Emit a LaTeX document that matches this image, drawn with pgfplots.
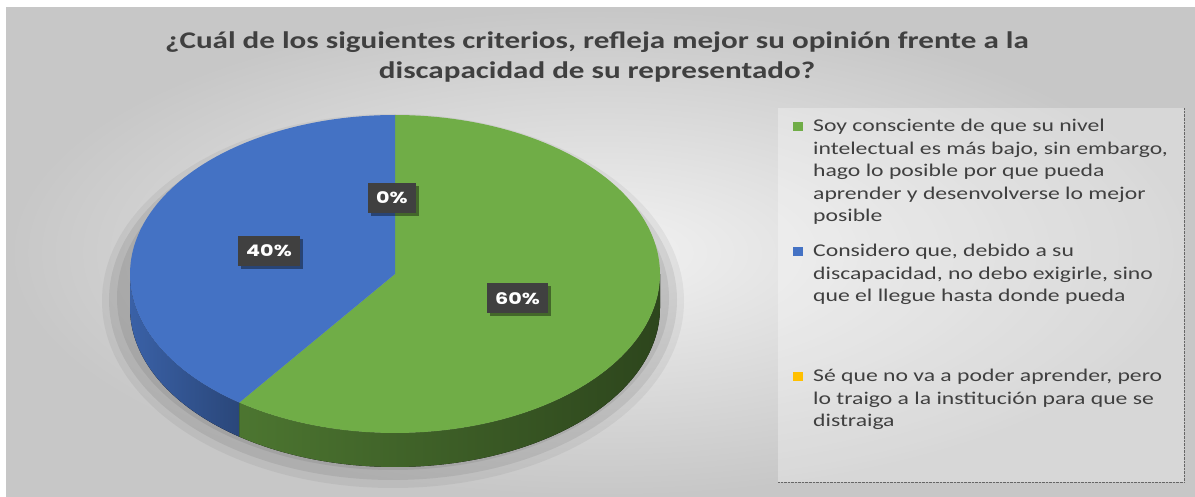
\documentclass[border=0pt]{standalone}
\usepackage{pgfplots}
\pgfplotsset{compat=1.18}
\usepgfplotslibrary{fillbetween}
\usetikzlibrary{shadows}
\usepackage{fontspec}
\setmainfont{Carlito}
\newfontfamily\titlefont[FakeStretch=1.3]{Carlito}
\newfontfamily\legfont[FakeStretch=1.32]{Carlito}
\newfontfamily\labfont[FakeStretch=1.3]{Poppins}
\definecolor{cgreen}{HTML}{70AD47}
\definecolor{cblue}{HTML}{4472C4}
\definecolor{cyellow}{HTML}{FFC000}
\definecolor{txt}{HTML}{404040}
\definecolor{lab}{HTML}{404040}
% data (percentages)
\def\vA{60}\def\vB{40}\def\vC{0}
\pgfmathsetmacro\aS{90}
\pgfmathsetmacro\aA{90-3.6*\vA}   % end of green
\pgfmathsetmacro\aB{\aA-3.6*\vB}  % end of blue
\def\cx{395}\def\cy{223}\def\rx{265}\def\ry{159}\def\dep{34}
\begin{document}
\begin{tikzpicture}
\begin{axis}[width=1195bp, height=497bp, scale only axis, set layers,
  xmin=0, xmax=1195, ymin=0, ymax=497, axis lines=none, clip=false]
\begin{pgfonlayer}{axis background}
% background
\fill[white] (axis cs:0,0) rectangle (axis cs:1195,497);
\shade[inner color=white!95!black, outer color=white!78!black] (axis cs:6,0) rectangle (axis cs:1195,489);
% shadow of pie
\fill[black, opacity=0.05] (axis cs:393,196) ellipse [x radius=291bp, y radius=187bp];
\fill[black, opacity=0.07] (axis cs:393,197) ellipse [x radius=284bp, y radius=180bp];
\fill[black, opacity=0.07] (axis cs:393,199) ellipse [x radius=276bp, y radius=172bp];
\end{pgfonlayer}
% sides
\addplot[draw=none, name path=gtop, domain=\aA:0, samples=80] ({\cx+\rx*cos(x)}, {\cy+\ry*sin(x)});
\addplot[draw=none, name path=gbot, domain=\aA:0, samples=80] ({\cx+\rx*cos(x)}, {\cy-\dep+\ry*sin(x)});
\addplot[left color=cgreen!68!black, right color=cgreen!40!black] fill between[of=gtop and gbot];
\addplot[draw=none, name path=btop, domain=-180:\aA, samples=40] ({\cx+\rx*cos(x)}, {\cy+\ry*sin(x)});
\addplot[draw=none, name path=bbot, domain=-180:\aA, samples=40] ({\cx+\rx*cos(x)}, {\cy-\dep+\ry*sin(x)});
\addplot[left color=cblue!85!black, right color=cblue!62!black] fill between[of=btop and bbot];
% top faces
\addplot[fill=cgreen, draw=none, domain=\aA:\aS, samples=120] ({\cx+\rx*cos(x)}, {\cy+\ry*sin(x)}) -- (axis cs:\cx,\cy) -- cycle;
\addplot[fill=cblue, draw=none, domain=\aB:\aA, samples=100] ({\cx+\rx*cos(x)}, {\cy+\ry*sin(x)}) -- (axis cs:\cx,\cy) -- cycle;
% data labels
\tikzset{lbl/.style={fill=lab, text=white, font=\labfont\bfseries\fontsize{16}{18}\selectfont, inner xsep=8bp, minimum height=30bp,
  drop shadow={shadow xshift=3bp, shadow yshift=-3bp, fill=black, opacity=0.4}}}
\node[lbl] at (axis cs:392,299) {\vC\%};
\node[lbl] at (axis cs:269,246) {\vB\%};
\node[lbl] at (axis cs:517.5,198.5) {\vA\%};
% title
\node[align=center, text=txt, font=\titlefont\bfseries\fontsize{24}{30}\selectfont] at (axis cs:597,440)
 {¿Cuál de los siguientes criterios, refleja mejor su opinión frente a la\\discapacidad de su representado?};
% legend
\fill[white, opacity=0.3] (axis cs:778,15) rectangle (axis cs:1184,389);
\draw[black!60, densely dotted] (axis cs:778,15) -- (axis cs:1184,15) -- (axis cs:1184,389);
\fill[cgreen] (axis cs:793,366) rectangle (axis cs:803,375);
\fill[cblue] (axis cs:793,241) rectangle (axis cs:803,250);
\fill[cyellow] (axis cs:793,116) rectangle (axis cs:803,125);
\tikzset{leg/.style={anchor=base west, text=txt, inner sep=0pt, font=\legfont\fontsize{18}{22.5}\selectfont}}
\node[leg] at (axis cs:813,365) {\vtop{\hbox{Soy consciente de que su nivel}\hbox{intelectual es más bajo, sin embargo,}\hbox{hago lo posible por que pueda}\hbox{aprender y desenvolverse lo mejor}\hbox{posible}}};
\node[leg] at (axis cs:813,240) {\vtop{\hbox{Considero que, debido a su}\hbox{discapacidad, no debo exigirle, sino}\hbox{que el llegue hasta donde pueda}}};
\node[leg] at (axis cs:813,115) {\vtop{\hbox{Sé que no va a poder aprender, pero}\hbox{lo traigo a la institución para que se}\hbox{distraiga}}};
\end{axis}
\end{tikzpicture}
\end{document}
